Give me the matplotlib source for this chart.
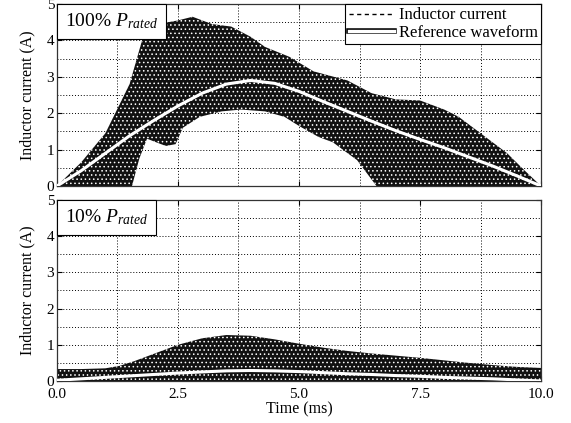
import numpy as np
import matplotlib
matplotlib.use("Agg")
import matplotlib.pyplot as plt
import matplotlib.patheffects as pe
from matplotlib.lines import Line2D
from matplotlib.offsetbox import AnchoredText
from matplotlib.ticker import MultipleLocator, FormatStrFormatter

plt.rcParams.update({
    "font.family": ["Liberation Serif", "DejaVu Serif"],
    "mathtext.fontset": "custom",
    "mathtext.rm": "Liberation Serif",
    "mathtext.it": "Liberation Serif:italic",
    "hatch.linewidth": 0.6,
    "font.size": 11,
})

# ---- 100% P_rated : ripple band envelope ----
t_full_hi = [0.0, 0.5, 1.0, 1.5, 1.8, 2.1, 2.5, 2.8, 3.2, 3.6, 4.0, 4.3, 4.8,
             5.3, 6.0, 6.5, 7.0, 7.5, 8.0, 8.3, 8.7, 9.3, 9.65, 10.0]
i_full_hi = [0.0, 0.65, 1.45, 2.8, 4.2, 4.45, 4.55, 4.65, 4.45, 4.38, 4.1, 3.82,
             3.55, 3.15, 2.9, 2.55, 2.38, 2.35, 2.1, 1.9, 1.5, 0.9, 0.44, 0.0]
t_full_lo = [0.0, 1.55, 1.7, 1.86, 2.05, 2.25, 2.45, 2.6, 2.95, 3.4, 3.8, 4.3,
             4.7, 5.0, 5.4, 5.7, 6.2, 6.6, 10.0]
i_full_lo = [0.0, 0.0, 0.75, 1.3, 1.2, 1.1, 1.15, 1.6, 1.9, 2.05, 2.1, 2.05,
             1.9, 1.65, 1.35, 1.2, 0.71, 0.0, 0.0]

# ---- 10% P_rated ----
t_low_hi = [0.0, 0.5, 1.0, 1.3, 1.6, 2.0, 2.5, 3.0, 3.5, 4.0, 4.5, 5.0, 5.5,
            6.0, 6.5, 7.0, 7.5, 8.0, 8.5, 9.0, 9.5, 10.0]
i_low_hi = [0.33, 0.33, 0.35, 0.42, 0.55, 0.75, 1.0, 1.18, 1.27, 1.25, 1.15,
            1.03, 0.92, 0.83, 0.76, 0.7, 0.64, 0.57, 0.5, 0.44, 0.39, 0.36]
t_low_lo = [0.0, 10.0]
i_low_lo = [0.0, 0.0]

# ---- reference waveforms ----
t_ref = [0.0, 0.5, 1.0, 1.5, 2.0, 2.5, 3.0, 3.5, 4.0, 4.5, 5.0, 5.5, 6.0,
         6.5, 7.0, 7.5, 8.0, 8.5, 9.0, 9.5, 10.0]
i_ref_full = [0.0, 0.42, 0.9, 1.38, 1.8, 2.2, 2.55, 2.8, 2.9, 2.82, 2.6, 2.32,
              2.05, 1.78, 1.52, 1.28, 1.05, 0.8, 0.55, 0.28, 0.0]
i_ref_low = [0.02, 0.06, 0.1, 0.14, 0.18, 0.22, 0.25, 0.28, 0.29, 0.28, 0.26,
             0.23, 0.2, 0.18, 0.15, 0.13, 0.1, 0.08, 0.06, 0.03, 0.0]

panels = [
    (t_full_hi, i_full_hi, t_full_lo, i_full_lo, i_ref_full, "100"),
    (t_low_hi, i_low_hi, t_low_lo, i_low_lo, i_ref_low, "10"),
]

fig = plt.figure(figsize=(5.71, 4.23), dpi=100)
ax1 = fig.add_axes([0.0998, 0.5603, 0.8477, 0.4302])
ax2 = fig.add_axes([0.0998, 0.0993, 0.8477, 0.4279])

for ax, (th, ih, tl, il, iref, pct) in zip([ax1, ax2], panels):
    ax.set_axisbelow(True)
    # switching ripple band
    ax.fill(np.r_[th, tl[::-1]], np.r_[ih, il[::-1]], facecolor="#111111",
            edgecolor="white", hatch="....", linewidth=0, zorder=2)
    ax.plot(t_ref, iref, color="white", lw=2.2, zorder=3)

    ax.set_xlim(0, 10)
    ax.set_ylim(0, 5)
    ax.xaxis.set_major_locator(MultipleLocator(2.5))
    ax.xaxis.set_minor_locator(MultipleLocator(1.25))
    ax.yaxis.set_major_locator(MultipleLocator(1))
    ax.yaxis.set_minor_locator(MultipleLocator(0.5))
    ax.xaxis.set_major_formatter(FormatStrFormatter("%.1f"))
    ax.grid(which="both", color="black", ls=(0, (1, 2)), lw=0.7)
    ax.tick_params(direction="in", top=True, right=True, length=3.5,
                   width=0.8, labelsize=11, pad=2)
    ax.tick_params(axis="x", pad=5)
    ax.tick_params(which="minor", length=0)
    for s in ax.spines.values():
        s.set_linewidth(0.9)
        s.set_color("#333333")
    ax.set_ylabel("Inductor current (A)", fontsize=11.5, labelpad=8)

    at = AnchoredText(pct + r"% $P_{rated}$", loc="upper left", borderpad=0,
                      pad=0.4, prop=dict(size=14))
    at.patch.set_boxstyle("square,pad=0")
    at.patch.set_linewidth(0.8)
    at.zorder = 5
    ax.add_artist(at)

ax1.tick_params(labelbottom=False)
ax2.set_xlabel("Time (ms)", fontsize=11.5, labelpad=0)

handles = [
    Line2D([], [], color="black", ls=(0, (3, 2.5)), lw=1.0),
    Line2D([], [], color="white", lw=2.4,
           path_effects=[pe.Stroke(linewidth=4.0, foreground="black"), pe.Normal()]),
]
leg = ax1.legend(handles, ["Inductor current", "Reference waveform"],
                 loc="upper right", borderaxespad=0, fancybox=False,
                 framealpha=1, edgecolor="black", fontsize=12,
                 handlelength=2.7, handletextpad=0.3, borderpad=0.2,
                 labelspacing=0.1)
leg.get_frame().set_linewidth(0.8)
leg.set_zorder(5)

fig.savefig("out.png", dpi=100)
